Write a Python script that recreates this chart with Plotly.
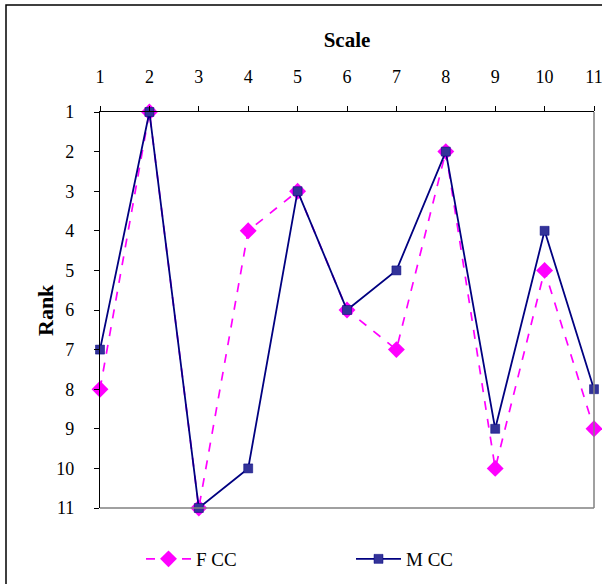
import plotly.graph_objects as go

scale = [1, 2, 3, 4, 5, 6, 7, 8, 9, 10, 11]
f_cc = [8, 1, 11, 4, 3, 6, 7, 2, 10, 5, 9]
m_cc = [7, 1, 11, 10, 3, 6, 5, 2, 9, 4, 8]
rank_ticks = [1, 2, 3, 4, 5, 6, 7, 8, 9, 10, 11]

FONT = "Liberation Serif, Times New Roman, serif"

fig = go.Figure()
fig.add_trace(go.Scatter(
    x=scale, y=f_cc, name="F CC", mode="lines+markers",
    line=dict(color="#FF00FF", width=1.7, dash="dash"),
    marker=dict(symbol="diamond", size=13, color="#FF00FF", line=dict(width=0)),
    cliponaxis=False,
))
fig.add_trace(go.Scatter(
    x=scale, y=m_cc, name="M CC", mode="lines+markers",
    line=dict(color="#000080", width=1.8),
    marker=dict(symbol="square", size=9, color="#333399", line=dict(width=0.5, color="#000080")),
    cliponaxis=False,
))

W, H = 602, 584
L, R, T, B = 100, 8, 112, 76
pw, ph = W - L - R, H - T - B

def px(x):
    return (x - L) / pw

def py(y):
    return 1 - (y - T) / ph

fig.update_layout(
    width=W, height=H,
    margin=dict(l=L, r=R, t=T, b=B, autoexpand=False),
    paper_bgcolor="white", plot_bgcolor="white",
    font=dict(family=FONT, size=18, color="black"),
    xaxis=dict(
        range=[1, 11], side="top", tickvals=scale, ticktext=[str(s) for s in scale],
        showgrid=False, zeroline=False, showline=True, linecolor="black", linewidth=1.2,
        ticks="outside", ticklen=5, tickcolor="black", tickfont=dict(size=18, family=FONT),
        ticklabelstandoff=16, ticklabeloverflow="allow",
        title=dict(text="<b>Scale</b>", font=dict(size=21, family=FONT), standoff=13),
    ),
    yaxis=dict(
        range=[11, 1], tickvals=rank_ticks, ticktext=[str(r) for r in rank_ticks],
        showgrid=False, zeroline=False, showline=True, linecolor="black", linewidth=1.2,
        ticks="outside", ticklen=5, tickcolor="black", tickfont=dict(size=18, family=FONT),
        ticklabelstandoff=16, ticklabeloverflow="allow",
    ),
    annotations=[
        dict(text="<b>Rank</b>", xref="paper", yref="paper", x=px(45), y=0.5,
             xanchor="center", yanchor="middle", textangle=-90, showarrow=False,
             font=dict(size=22, family=FONT)),
    ],
    showlegend=True,
    legend=dict(
        orientation="h", entrywidth=150, entrywidthmode="pixels", itemwidth=45,
        x=px(141), y=py(559), xanchor="left", yanchor="middle",
        font=dict(size=19, family=FONT), bgcolor="rgba(0,0,0,0)",
    ),
    shapes=[
        dict(type="line", xref="paper", yref="paper", x0=1, x1=1, y0=0, y1=1,
             line=dict(color="#808080", width=1.5)),
        dict(type="line", xref="paper", yref="paper", x0=0, x1=1, y0=0, y1=0,
             line=dict(color="#808080", width=1.5)),
        dict(type="rect", xref="paper", yref="paper", x0=px(6), x1=px(640),
             y0=py(640), y1=py(5), line=dict(color="black", width=1.5),
             fillcolor="rgba(0,0,0,0)", layer="below"),
    ],
)

fig.write_html(
    "out.html",
    config={"displayModeBar": False},
    post_script="document.body.style.margin='0';document.body.style.overflow='hidden';",
)
